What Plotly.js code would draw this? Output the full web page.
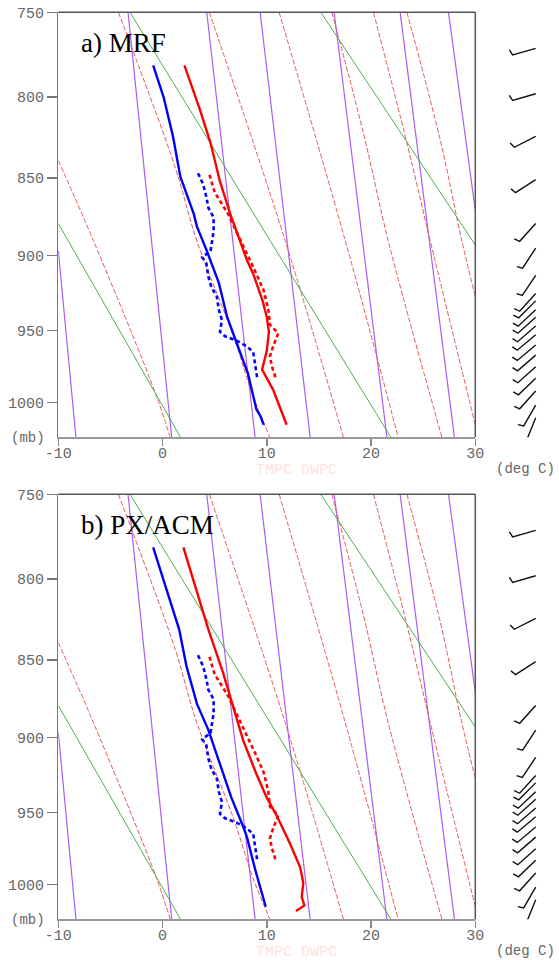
<!DOCTYPE html>
<html><head><meta charset="utf-8">
<script src="https://cdn.plot.ly/plotly-3.0.1.min.js"></script>
<style>body{margin:0;background:#fff}#chart{width:559px;height:960px}</style>
</head><body><div id="chart"></div>
<script>
// ---------- data ----------
const KAPPA = 0.286;
const P_TOP = 750, P_BOT = 1025;
const pressureTicks = [750, 800, 850, 900, 950, 1000];
const tempTicks = [-10, 0, 10, 20, 30];
const panelLabels = ['a) MRF', 'b) PX/ACM'];

// observed sounding (dotted), same in both panels
const obsTempP = [848, 859, 873, 890, 898, 912, 923, 936, 946, 952, 961, 968, 975, 984];
const obsTempT = [4.5, 5.0, 6.3, 7.5, 8.1, 9.0, 9.7, 10.15, 10.3, 11.1, 10.6, 10.3, 10.5, 10.9];
const obsDewP = [847, 854, 862, 869, 875, 884, 897, 901, 905, 914, 921, 927, 936, 943, 951, 954, 957, 961, 965, 975, 984];
const obsDewT = [3.4, 3.9, 4.2, 4.4, 4.9, 4.9, 4.6, 3.8, 4.2, 4.4, 4.7, 5.2, 5.4, 5.7, 5.5, 6.0, 7.1, 8.1, 8.7, 8.9, 9.1];

// a) MRF model
const mrfTempP = [781, 808, 828, 852, 873, 890, 903, 912, 930, 941, 951, 964, 977, 991, 1005, 1016];
const mrfTempT = [2.1, 3.6, 4.6, 5.5, 6.5, 7.4, 8.1, 8.7, 9.6, 10.0, 10.2, 10.0, 9.55, 10.6, 11.3, 11.9];
const mrfDewP = [781, 800, 824, 849, 873, 881, 896, 918, 941, 956, 980, 1005, 1010, 1016];
const mrfDewT = [-0.9, 0.1, 1.0, 1.7, 3.0, 3.3, 4.2, 5.4, 6.2, 7.0, 8.2, 9.0, 9.4, 9.7];

// b) PX/ACM model
const pxTempP = [781, 805, 831, 858, 880, 902, 924, 940, 953, 971, 988, 999, 1009, 1015, 1019];
const pxTempT = [2.0, 3.2, 4.4, 5.8, 6.8, 7.75, 9.0, 10.0, 11.0, 12.2, 13.2, 13.5, 13.35, 13.6, 12.8];
const pxDewP = [781, 805, 831, 854, 878, 895, 917, 940, 960, 967, 990, 1016];
const pxDewT = [-0.9, 0.3, 1.6, 2.3, 3.3, 4.4, 5.5, 6.6, 7.75, 8.1, 8.9, 9.9];

// background: dry adiabats (green)
const dryP = [[879, 1025], [750, 1025], [750, 893]];
const dryT = [[-10, 1.73], [-3.12, 21.9], [15.18, 30]];
// background: saturation adiabats (red dashed)
const moistP = [[839, 890, 996, 1025], [750, 781, 843, 890, 954, 996, 1025], [750, 890, 1025], [750, 890, 1025], [750, 822, 890, 1025], [750, 828, 890, 1016], [750, 826, 890, 927]];
const moistT = [[-10, -6.64, -0.56, 0.73], [-4.24, -2.32, 1.2, 3.28, 6.8, 8.7, 10.3], [4.49, 11.76, 17.35], [11.18, 17.52, 22.6], [16.24, 19.27, 21.64, 26.8], [20.23, 23.44, 25.67, 30], [23.44, 26.63, 28.7, 30]];
// background: mixing-ratio lines (purple)
const mixP = [[896.5, 1025], [750, 1025], [750, 1025], [750, 1025], [750, 1025], [750, 1025], [750, 870.5]];
const mixT = [[-10, -8.31], [-3.31, 0.88], [4.24, 8.88], [9.36, 14.16], [16.46, 21.52], [22.79, 28.0], [27.43, 30]];

// wind barbs (same column in both panels)
const barbP = [771, 798, 824, 851, 879, 895, 913, 925, 930, 936, 941, 947, 953, 960, 967, 975, 983, 992, 1002, 1011];
const barbDir = [254, 254, 243, 237, 222, 213, 214, 222, 225, 227, 228, 229, 230, 230, 229, 228, 226, 222, 210, 202];
const barbSpeed = [5, 5, 5, 5, 5, 5, 5, 5, 5, 5, 5, 5, 5, 5, 5, 5, 5, 5, 5, 5];

// ---------- drawing ----------
const u = p => Math.pow(p, KAPPA);
const W = 559, H = 960;
const plotLeft = 58.3, plotRight = 475.3;
const panelTop = [12.3, 494.3], panelH = 425;
const pxPerU = panelH / (u(P_BOT) - u(P_TOP));
const barbX0 = 535.7, staffLen = 24, halfLen = 6, fullLen = 12, barbRot = 73 * Math.PI / 180;

const traces = [];
function addPanel(i) {
  const xa = i === 0 ? 'x' : 'x2', ya = i === 0 ? 'y' : 'y2', xb = i === 0 ? 'x3' : 'x4';
  const line = (P, T, color, width, dash, shape) => traces.push({
    type: 'scatter', mode: 'lines', xaxis: xa, yaxis: ya, x: T, y: P.map(u),
    line: {color: color, width: width, dash: dash || 'solid', shape: shape || 'linear'},
    hoverinfo: 'skip', showlegend: false, cliponaxis: true
  });
  mixP.forEach((P, k) => line(P, mixT[k], '#aa5cf5', 1.2));
  moistP.forEach((P, k) => line(P, moistT[k], '#e65a5a', 1, '5px,2px', 'spline'));
  dryP.forEach((P, k) => line(P, dryT[k], '#4cae4c', 1));
  const model = i === 0 ? [mrfTempP, mrfTempT, mrfDewP, mrfDewT] : [pxTempP, pxTempT, pxDewP, pxDewT];
  line(obsTempP, obsTempT, '#ff0000', 2.6, '4px,3px');
  line(obsDewP, obsDewT, '#0000ff', 2.6, '4px,3px');
  line(model[0], model[1], '#ff0000', 2.4);
  line(model[2], model[3], '#0000ff', 2.4);
  // barbs
  const bx = [], by = [];
  barbP.forEach((p, k) => {
    const D = barbDir[k] * Math.PI / 180;
    const dx = Math.sin(D), dy = -Math.cos(D);
    const y0 = u(p);
    const pt = (sx, sy) => { bx.push(barbX0 + sx); by.push(y0 + sy / pxPerU); };
    pt(0, 0); pt(dx * staffLen, dy * staffLen);
    const tx = dx * Math.cos(barbRot) - dy * Math.sin(barbRot);
    const ty = dx * Math.sin(barbRot) + dy * Math.cos(barbRot);
    let s = barbSpeed[k], pos = staffLen;
    while (s >= 10) { pt(dx * pos, dy * pos); pt(dx * pos + tx * fullLen, dy * pos + ty * fullLen); bx.push(null); by.push(null); pos -= 4; s -= 10; pt(dx*pos, dy*pos); }
    if (s >= 5) { pt(dx * pos, dy * pos); pt(dx * pos + tx * halfLen, dy * pos + ty * halfLen); }
    bx.push(null); by.push(null);
  });
  traces.push({type: 'scatter', mode: 'lines', xaxis: xb, yaxis: ya, x: bx, y: by,
    line: {color: '#111', width: 1.4}, hoverinfo: 'skip', showlegend: false});
}
addPanel(0); addPanel(1);

const dom = t => [1 - (t + panelH) / H, 1 - t / H];
const tickFont = {family: 'Liberation Mono, DejaVu Sans Mono, monospace', size: 15, color: '#666'};
const xAxis = (anchor) => ({
  domain: [plotLeft / W, plotRight / W], range: [-10, 30], anchor: anchor,
  tickmode: 'array', tickvals: tempTicks, ticktext: tempTicks.map(String),
  ticks: 'outside', ticklen: 7, tickcolor: '#888', tickwidth: 1.5, ticklabelstandoff: -6,
  showline: true, linecolor: '#999', linewidth: 2, showgrid: false, zeroline: false,
  tickfont: tickFont, fixedrange: true
});
const yAxis = (anchor, k) => ({
  domain: dom(panelTop[k]), range: [u(P_BOT), u(P_TOP)], anchor: anchor,
  tickmode: 'array', tickvals: pressureTicks.map(u), ticktext: pressureTicks.map(String),
  ticks: 'outside', ticklen: 10, tickcolor: '#777', tickwidth: 1.2,
  showline: true, linecolor: '#777', linewidth: 1.3, showgrid: false, zeroline: false,
  tickfont: tickFont, fixedrange: true
});
const barbAxis = (anchor) => ({domain: [480 / W, 1], range: [480, 559], anchor: anchor, visible: false, fixedrange: true});

const annotations = [], shapes = [];
[0, 1].forEach(k => {
  const t = panelTop[k];
  const py = v => 1 - v / H;
  annotations.push({xref: 'paper', yref: 'paper', x: 79 / W, y: py(t + 31), xanchor: 'left', yanchor: 'middle',
    text: panelLabels[k], showarrow: false, font: {family: 'Liberation Serif, serif', size: 27, color: '#000'}});
  annotations.push({xref: 'paper', yref: 'paper', x: 28 / W, y: py(t + 425.5), xanchor: 'center', yanchor: 'middle',
    text: '(mb)', showarrow: false, font: {family: 'Liberation Mono, monospace', size: 14, color: '#666'}});
  annotations.push({xref: 'paper', yref: 'paper', x: 525 / W, y: py(t + 457), xanchor: 'center', yanchor: 'middle',
    text: '(deg C)', showarrow: false, font: {family: 'Liberation Mono, monospace', size: 14, color: '#666'}});
  annotations.push({xref: 'paper', yref: 'paper', x: 296 / W, y: py(t + 458), xanchor: 'center', yanchor: 'middle',
    text: 'TMPC DWPC', showarrow: false, font: {family: 'Liberation Mono, monospace', size: 15, color: '#ffe2de'}});
  const xr = k === 0 ? 'x domain' : 'x2 domain', yr = k === 0 ? 'y domain' : 'y2 domain';
  shapes.push({type: 'line', xref: xr, yref: yr, x0: 0, x1: 1, y0: 1, y1: 1, line: {color: '#555', width: 1.5}});
  shapes.push({type: 'line', xref: xr, yref: yr, x0: 1, x1: 1, y0: 0, y1: 1, line: {color: '#555', width: 1.5}});
});

const layout = {
  width: W, height: H, margin: {l: 0, r: 0, t: 0, b: 0},
  paper_bgcolor: '#fff', plot_bgcolor: '#fff', showlegend: false,
  xaxis: xAxis('y'), yaxis: yAxis('x', 0),
  xaxis2: xAxis('y2'), yaxis2: yAxis('x2', 1),
  xaxis3: barbAxis('y'), xaxis4: barbAxis('y2'),
  annotations: annotations, shapes: shapes
};
Plotly.newPlot('chart', traces, layout, {displayModeBar: false, staticPlot: true});
</script></body></html>
